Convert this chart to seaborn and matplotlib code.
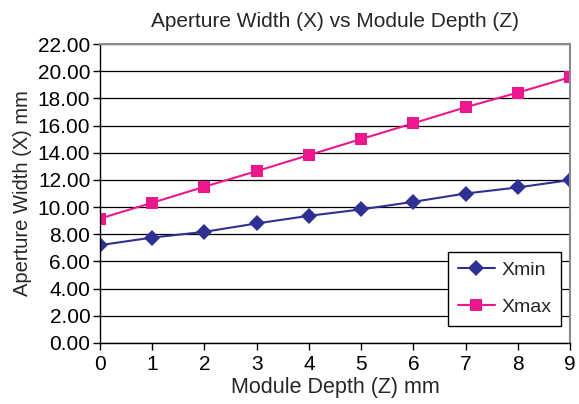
import pandas as pd
import matplotlib
matplotlib.use("Agg")
import matplotlib.pyplot as plt
import seaborn as sns
from matplotlib.ticker import FormatStrFormatter

# Data
depth = [0, 1, 2, 3, 4, 5, 6, 7, 8, 9]
x_min = [7.2, 7.76, 8.18, 8.8, 9.36, 9.83, 10.39, 11.0, 11.45, 11.99]
x_max = [9.16, 10.32, 11.5, 12.65, 13.83, 15.01, 16.17, 17.35, 18.43, 19.56]
series_names = ["Xmin", "Xmax"]

df = pd.DataFrame({"Z": depth * 2,
                   "X": x_min + x_max,
                   "series": [series_names[0]] * len(depth) + [series_names[1]] * len(depth)})

sns.set_style("white")
plt.rcParams['font.family'] = ['Liberation Sans', 'DejaVu Sans']

fig = plt.figure(figsize=(5.79, 4.04), dpi=100)
ax = fig.add_axes([0.1727, 0.151, 0.812, 0.740])

colors = {"Xmin": "#2E3192", "Xmax": "#EC178C"}
sns.lineplot(data=df, x="Z", y="X", hue="series", style="series",
             markers={"Xmin": "D", "Xmax": "s"}, dashes=False,
             palette=colors, markersize=8.5, linewidth=1.5,
             markeredgewidth=0, ax=ax)

ax.set_xlim(0, 9)
ax.set_ylim(0, 22)
ax.set_xticks(range(0, 10))
ax.set_yticks(range(0, 23, 2))
ax.yaxis.set_major_formatter(FormatStrFormatter('%.2f'))
ax.grid(axis='y', color='black', linewidth=0.9)
ax.set_axisbelow(True)
ax.tick_params(axis='both', labelsize=15, length=5, width=1, direction='out',
               bottom=True, left=True, colors='black')
ax.tick_params(axis='x', pad=4)
ax.tick_params(axis='y', pad=2)

for side in ['top', 'right']:
    ax.spines[side].set_color('#8a8a8a')
    ax.spines[side].set_linewidth(1.5)
for side in ['left', 'bottom']:
    ax.spines[side].set_color('black')
    ax.spines[side].set_linewidth(1)

ax.set_title("Aperture Width (X) vs Module Depth (Z)", fontsize=15, pad=12)
ax.set_xlabel("Module Depth (Z) mm", fontsize=15.5, labelpad=2)
ax.set_ylabel("Aperture Width (X) mm", fontsize=14.5, labelpad=4)

leg = ax.legend(loc='lower right', bbox_to_anchor=(0.981, 0.057), fontsize=14,
                frameon=True, fancybox=False, framealpha=1, edgecolor='black',
                handlelength=1.9, labelspacing=1.0, borderpad=0.5,
                handletextpad=0.35, borderaxespad=0)
leg.get_frame().set_linewidth(1)
leg.set_title(None)

fig.savefig("out.png", dpi=100)
